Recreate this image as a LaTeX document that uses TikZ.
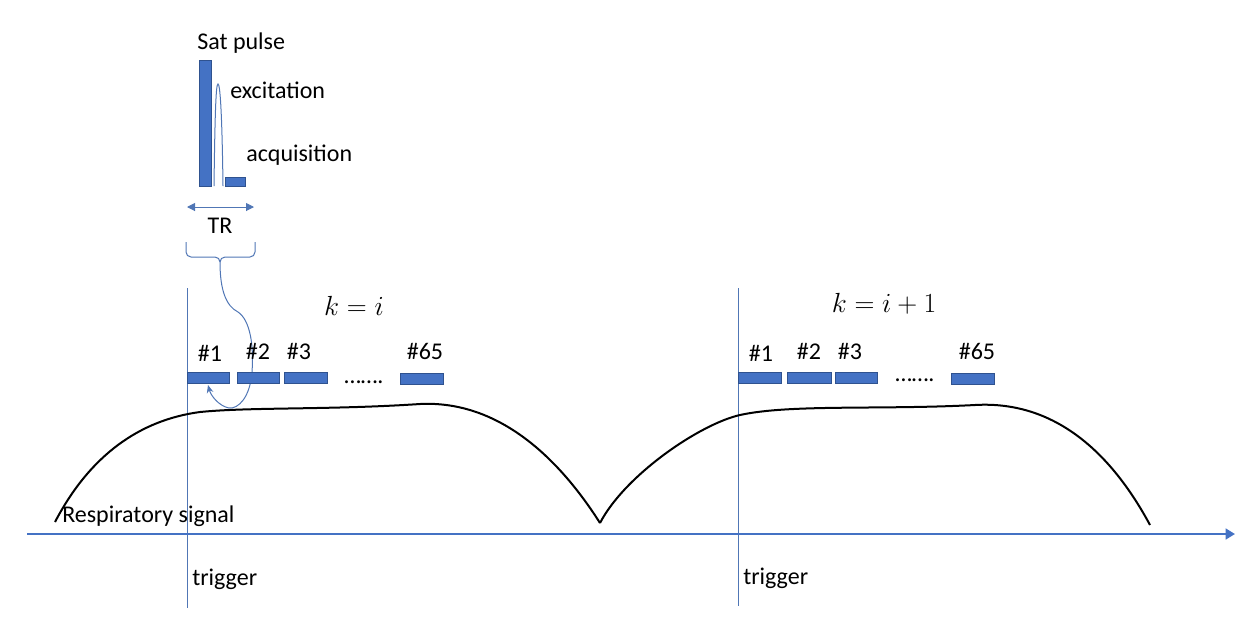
\documentclass[tikz,border=0pt]{standalone}
\usepackage{fontspec}
\setmainfont{Carlito}
\usetikzlibrary{arrows.meta}
\definecolor{mblue}{HTML}{4472C4}
\definecolor{dblue}{HTML}{2F528F}
\definecolor{lblue}{HTML}{5076B5}
\begin{document}
\begin{tikzpicture}[x=0.75pt,y=-0.75pt,
  lbl/.style={inner sep=0pt,font=\fontsize{18}{20}\selectfont},
  mlbl/.style={inner sep=0pt,font=\fontsize{21}{23}\selectfont},
  pbox/.style={fill=mblue,draw=dblue,line width=0.4pt},
  thinblue/.style={draw=lblue,line width=0.75pt},
  resp/.style={draw=black,line width=1.5pt,line join=round}]
\useasboundingbox (0,0) rectangle (1251,622);
% pulse sequence detail
\draw[pbox] (199,60) rectangle (211,186);
\draw[pbox] (225,177) rectangle (245,186);
\draw[thinblue] (214,186) .. controls (215,110) and (216,84) .. (218,84) .. controls (220,84) and (222,110) .. (223,186);
\node[lbl,anchor=base west] (sat) at (197,49) {Sat pulse};
\node[lbl,anchor=base west] (exc) at (230,98) {excitation};
\node[lbl,anchor=base west] (acq) at (246,161) {acquisition};
\coordinate (trl) at (187,207);
\coordinate (trr) at (254,207);
\draw[thinblue,{Triangle[length=6pt,width=6pt]}-{Triangle[length=6pt,width=6pt]}] (trl) -- (trr);
\node[lbl] (tr) at (220,226) {TR};
% brace and curved arrow
\coordinate (btip) at (220,262);
\draw[thinblue] (186,242) -- (186,252) to[out=-90,in=180] (191,257) -- (215,257) to[out=0,in=90] (btip);
\draw[thinblue] (255,242) -- (255,252) to[out=-90,in=0] (250,257) -- (225,257) to[out=180,in=90] (btip);
\coordinate (aend) at (208,385);
\draw[thinblue,-{Stealth[length=6pt,width=5pt]}] (btip) .. controls (220,290) and (226,306) .. (238,312)
  .. controls (250,320) and (254,345) .. (252,372)
  .. controls (250,398) and (238,409) .. (229,408)
  .. controls (219,406) and (211,396) .. (aend);
% trigger lines
\coordinate (t1a) at (187,288); \coordinate (t1b) at (187,608);
\coordinate (t2a) at (738,288); \coordinate (t2b) at (738,606);
\draw[thinblue] (t1a) -- (t1b);
\draw[thinblue] (t2a) -- (t2b);
% labels k
\node[mlbl,anchor=base] (k1) at (354,315) {$k=i$};
\node[mlbl,anchor=base] (k2) at (884,312) {$k=i+1$};
% shot boxes, first
\draw[pbox] (187,372) rectangle (229,383);
\draw[pbox] (237,372) rectangle (279,383);
\draw[pbox] (284,372) rectangle (327,383);
\draw[pbox] (400,373) rectangle (443,384);
\node[lbl,anchor=base] (a1) at (210,361) {\#1};
\node[lbl,anchor=base] (a2) at (258,359) {\#2};
\node[lbl,anchor=base] (a3) at (299,359) {\#3};
\node[lbl,anchor=base] (a65) at (425,359) {\#65};
\node[lbl,anchor=base west] (ad) at (344,383) {…….};
% shot boxes, second
\draw[pbox] (738,372) rectangle (781,383);
\draw[pbox] (787,372) rectangle (831,383);
\draw[pbox] (835,372) rectangle (877,383);
\draw[pbox] (951,373) rectangle (994,384);
\node[lbl,anchor=base] (b1) at (761,361) {\#1};
\node[lbl,anchor=base] (b2) at (809,359) {\#2};
\node[lbl,anchor=base] (b3) at (850,359) {\#3};
\node[lbl,anchor=base] (b65) at (977,359) {\#65};
\node[lbl,anchor=base west] (bd) at (895,381) {…….};
% respiratory curve
\draw[resp] (55,522) .. controls (90,455) and (140,420) .. (200,412)
  .. controls (250,407) and (330,410) .. (420,404)
  .. controls (500,400) and (560,460) .. (600,523);
\draw[resp] (600,523) .. controls (625,475) and (700,424) .. (740,415)
  .. controls (790,404) and (880,410) .. (975,405)
  .. controls (1060,400) and (1115,460) .. (1150,525);
% axis
\coordinate (ax0) at (27,534);
\coordinate (ax1) at (1235,534);
\draw[draw=mblue,line width=2.2pt,-{Triangle[length=7pt,width=8pt]}] (ax0) -- (ax1);
\node[lbl,anchor=base west] (rs) at (62,522) {Respiratory signal};
\node[lbl,anchor=base west] (tg1) at (192,585) {trigger};
\node[lbl,anchor=base west] (tg2) at (743,584) {trigger};
\end{tikzpicture}
\end{document}
